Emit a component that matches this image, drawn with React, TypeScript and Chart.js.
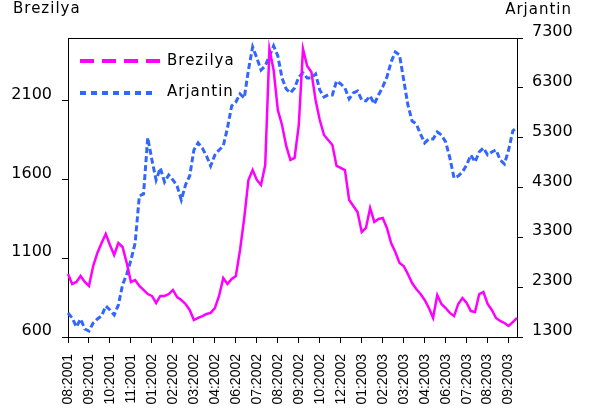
import React, { useEffect, useRef } from 'react';
import { Chart, registerables } from 'chart.js';

Chart.register(...registerables);

// Tick labels (one every 5 observations)
const tickLabels = [
  '08:2001', '09:2001', '10:2001', '11:2001', '01:2002', '02:2002', '03:2002', '04:2002',
  '06:2002', '07:2002', '08:2002', '09:2002', '10:2002', '12:2002', '01:2003', '02:2003',
  '03:2003', '04:2003', '06:2003', '07:2003', '08:2003', '09:2003',
];
const pointsPerTick = 5;

// Brezilya (left axis)
const brezilya = [
  1000, 937, 950, 988, 950, 924, 1051, 1134, 1197, 1255,
  1185, 1121, 1197, 1172, 1070, 950, 962, 924, 899, 873,
  861, 816, 861, 861, 873, 899, 854, 835, 810, 772,
  708, 721, 733, 746, 753, 784, 861, 975, 937, 969,
  988, 1153, 1356, 1598, 1661, 1598, 1566, 1693, 2430, 2297,
  2043, 1947, 1814, 1725, 1738, 1947, 2430, 2322, 2284, 2106,
  1979, 1884, 1852, 1820, 1687, 1674, 1661, 1471, 1433, 1394,
  1267, 1293, 1420, 1331, 1350, 1356, 1293, 1197, 1140, 1070,
  1051, 1000, 943, 905, 873, 835, 784, 721, 867, 810,
  784, 753, 733, 810, 848, 816, 765, 759, 873, 886,
  810, 772, 721, 702, 689, 670, 695, 721,
];

// Arjantin (right axis)
const arjantin = [
  1782, 1681, 1501, 1661, 1461, 1420, 1581, 1661, 1721, 1922,
  1842, 1742, 1942, 2344, 2564, 2845, 3187, 4130, 4170, 5300,
  4852, 4451, 4692, 4411, 4551, 4451, 4331, 4050, 4351, 4531,
  5053, 5194, 5093, 4933, 4732, 4953, 5053, 5133, 5495, 5936,
  6016, 6177, 6097, 6659, 7120, 6900, 6659, 6739, 6940, 7140,
  6940, 6498, 6277, 6197, 6297, 6518, 6598, 6498, 6498, 6578,
  6257, 6117, 6157, 6157, 6438, 6378, 6297, 6077, 6197, 6237,
  6057, 6037, 6137, 5976, 6157, 6318, 6518, 6819, 7020, 6960,
  6458, 5956, 5635, 5575, 5374, 5194, 5274, 5274, 5414, 5354,
  5214, 4893, 4491, 4531, 4612, 4752, 4953, 4812, 5013, 5093,
  4953, 5013, 5053, 4852, 4772, 5053, 5434, 5515,
];

const leftTicks = [600, 1100, 1600, 2100];
const rightTicks = [1300, 2300, 3300, 4300, 5300, 6300, 7300];
const leftRange = [600, 2500];
const rightRange = [1300, 7300];

const categories = brezilya.map((_, i) =>
  i % pointsPerTick === 0 ? tickLabels[i / pointsPerTick] ?? '' : ''
);

const MAGENTA = '#ff00ff';
const BLUE = '#3366ff';

const decor = {
  id: 'decor',
  afterDraw(chart: any) {
    const { ctx, chartArea } = chart;
    const { left, right, top } = chartArea;
    ctx.save();
    ctx.strokeStyle = '#000';
    ctx.lineWidth = 1;
    ctx.setLineDash([]);
    ctx.beginPath();
    ctx.moveTo(left, top + 0.5);
    ctx.lineTo(right, top + 0.5);
    ctx.stroke();

    ctx.fillStyle = '#000';
    ctx.font = '15px "DejaVu Sans"';
    try { (ctx as any).letterSpacing = '1px'; } catch (e) {}
    ctx.textBaseline = 'alphabetic';
    ctx.textAlign = 'left';
    ctx.fillText('Brezilya', 13, 13);
    ctx.textAlign = 'right';
    ctx.fillText('Arjantin', 572, 14);

    // legend
    const ds = chart.data.datasets;
    const items = [
      { y: 61, x0: 80, x1: 162, dash: [14, 8], text: ds[0].label, color: ds[0].borderColor, ty: 65 },
      { y: 93, x0: 80, x1: 157, dash: [6, 5], text: ds[1].label, color: ds[1].borderColor, ty: 96 },
    ];
    items.forEach((it) => {
      ctx.strokeStyle = it.color;
      ctx.lineWidth = 4;
      ctx.setLineDash(it.dash);
      ctx.beginPath();
      ctx.moveTo(it.x0, it.y);
      ctx.lineTo(it.x1, it.y);
      ctx.stroke();
      ctx.setLineDash([]);
      ctx.fillStyle = '#000';
      ctx.textAlign = 'left';
      ctx.fillText(it.text, 167, it.ty);
    });
    ctx.restore();
  },
};

export default function App() {
  const ref = useRef<HTMLCanvasElement>(null);
  useEffect(() => {
    if (!ref.current) return;
    const yFont = { family: '"DejaVu Sans"', size: 16 };
    const chart = new Chart(ref.current, {
      type: 'line',
      data: {
        labels: categories,
        datasets: [
          {
            label: 'Brezilya',
            data: brezilya,
            borderColor: MAGENTA,
            backgroundColor: MAGENTA,
            borderWidth: 2.5,
            pointRadius: 0,
            tension: 0,
            yAxisID: 'y',
          },
          {
            label: 'Arjantin',
            data: arjantin,
            borderColor: BLUE,
            backgroundColor: BLUE,
            borderWidth: 3,
            borderDash: [6, 3],
            pointRadius: 0,
            tension: 0,
            yAxisID: 'y1',
          },
        ],
      },
      options: {
        responsive: false,
        animation: false,
        layout: { padding: { top: 38, left: 0, right: 0, bottom: 0 } },
        plugins: { legend: { display: false }, tooltip: { enabled: false } },
        scales: {
          x: {
            type: 'category',
            offset: false,
            grid: { drawOnChartArea: false, drawTicks: true, tickLength: 6, color: '#000', lineWidth: 1 },
            border: { color: '#000', width: 1 },
            ticks: {
              autoSkip: false,
              minRotation: 90,
              maxRotation: 90,
              padding: 11,
              color: '#000',
              font: { family: '"Liberation Sans"', size: 14 },
              callback: (_v: any, i: number) => (categories[i] ? categories[i] : null),
            },
            afterFit: (s: any) => { s.height = 75; },
          },
          y: {
            position: 'left',
            min: leftRange[0],
            max: leftRange[1],
            grid: { drawOnChartArea: false, drawTicks: true, tickLength: 6, color: '#000' },
            border: { color: '#000', width: 1 },
            ticks: { color: '#000', font: yFont, padding: 10, labelOffset: -6, callback: (v: any) => String(v) },
            afterBuildTicks: (s: any) => { s.ticks = leftTicks.map((v) => ({ value: v })); },
            afterFit: (s: any) => { s.width = 68; },
          },
          y1: {
            position: 'right',
            min: rightRange[0],
            max: rightRange[1],
            grid: { drawOnChartArea: false, drawTicks: true, tickLength: 6, color: '#000' },
            border: { color: '#000', width: 1 },
            ticks: { color: '#000', font: yFont, padding: 9, labelOffset: -6, callback: (v: any) => String(v) },
            afterBuildTicks: (s: any) => { s.ticks = rightTicks.map((v) => ({ value: v })); },
            afterFit: (s: any) => { s.width = 72; },
          },
        },
      },
      plugins: [decor],
    } as any);
    return () => chart.destroy();
  }, []);
  return (
    <div style={{ position: 'absolute', left: 0, top: 0, width: 589, height: 412, background: '#fff' }}>
      <canvas ref={ref} width={589} height={412} />
    </div>
  );
}
